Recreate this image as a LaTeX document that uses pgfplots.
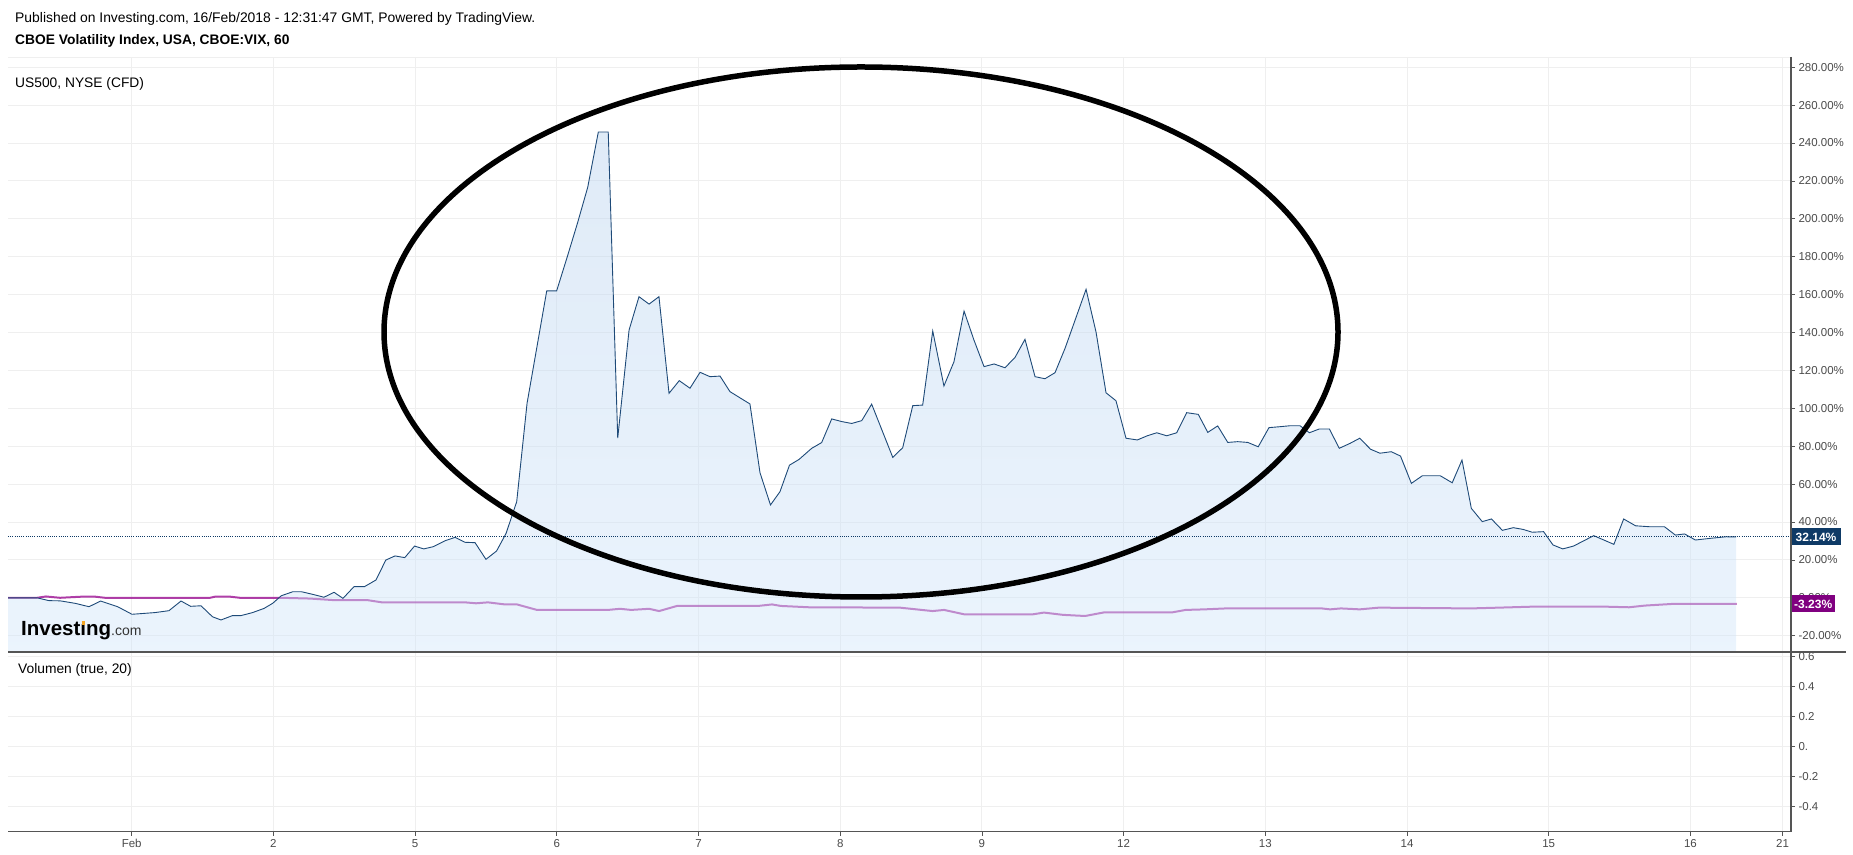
\documentclass[border=0pt]{standalone}
\usepackage{pgfplots}
\pgfplotsset{compat=1.18}
\usepackage{pgfplotstable}
\usepackage{fontspec}
\setmainfont{Liberation Sans}

\definecolor{gridc}{HTML}{EFEFEF}
\definecolor{axisc}{HTML}{555555}
\definecolor{tickc}{HTML}{4A4A4A}
\definecolor{vixline}{HTML}{1E4A78}
\definecolor{filltop}{RGB}{185,210,238}
\definecolor{fillbot}{RGB}{210,230,250}
\definecolor{spx}{RGB}{150,0,140}
\definecolor{navybox}{HTML}{0E3A66}
\definecolor{purplebox}{HTML}{800080}
\definecolor{investorange}{HTML}{F5A623}

% orange-dotted i of the logo
\newcommand\idot{\ooalign{ı\cr\hidewidth\textcolor{investorange}{\rule[0.56em]{0.16em}{0.15em}}\hidewidth\cr}}

% VIX, % change (x = trading day: 1 = Feb 1, 2 = Feb 2, 3 = Feb 5, ...)
\pgfplotstableread{
d v
0.127 0.0
0.332 0.0
0.416 -1.5
0.494 -1.6
0.600 -2.9
0.699 -4.7
0.780 -1.7
0.901 -4.7
1.002 -8.7
1.164 -7.8
1.263 -6.8
1.348 -1.7
1.416 -4.5
1.489 -4.2
1.570 -10.0
1.630 -11.7
1.711 -9.4
1.771 -9.4
1.853 -7.8
1.934 -5.6
1.995 -2.9
2.056 1.1
2.137 3.2
2.198 3.2
2.279 1.8
2.357 0.3
2.428 2.9
2.491 -0.3
2.569 5.9
2.643 5.9
2.724 9.4
2.793 19.9
2.858 22.1
2.927 21.2
2.996 27.3
3.061 25.8
3.129 27.0
3.211 30.1
3.282 31.9
3.352 29.3
3.423 29.1
3.500 20.3
3.575 24.7
3.642 34.0
3.717 50.7
3.790 102.6
3.929 162.0
3.999 162.0
4.074 180.0
4.147 198.0
4.218 216.6
4.293 245.8
4.363 245.8
4.430 84.3
4.510 141.3
4.580 158.9
4.651 155.0
4.721 158.9
4.792 107.9
4.864 114.6
4.940 110.6
5.011 119.0
5.081 116.7
5.152 117.0
5.222 108.8
5.363 102.3
5.434 66.0
5.508 49.0
5.575 56.0
5.642 70.0
5.709 73.0
5.799 78.9
5.869 81.9
5.940 94.4
6.011 93.0
6.081 92.0
6.152 93.5
6.222 102.2
6.371 74.1
6.441 79.2
6.512 101.4
6.582 101.7
6.653 140.8
6.732 111.8
6.803 124.6
6.874 151.3
6.944 136.0
7.015 122.0
7.086 123.4
7.163 121.4
7.234 126.9
7.304 136.4
7.375 116.7
7.445 115.6
7.516 118.8
7.587 131.7
7.735 162.8
7.805 140.4
7.876 108.2
7.946 104.0
8.017 84.2
8.097 83.3
8.167 85.5
8.234 87.1
8.304 85.5
8.375 87.1
8.445 97.7
8.527 96.8
8.594 87.3
8.664 90.7
8.735 82.0
8.805 82.4
8.876 82.0
8.950 79.7
9.026 89.8
9.104 90.3
9.174 90.8
9.245 90.8
9.311 87.1
9.381 89.1
9.452 89.1
9.522 78.9
9.598 81.5
9.666 84.2
9.743 78.4
9.809 76.3
9.889 77.1
9.954 74.8
10.031 60.4
10.108 64.4
10.235 64.4
10.319 60.7
10.388 72.7
10.454 47.2
10.531 40.2
10.596 41.6
10.673 35.6
10.750 37.0
10.819 36.1
10.884 34.6
10.964 34.9
11.030 27.9
11.099 25.8
11.175 27.3
11.318 32.8
11.460 28.2
11.529 41.6
11.613 38.0
11.713 37.5
11.817 37.5
11.894 33.1
11.959 33.7
12.035 30.5
12.143 31.4
12.251 32.2
12.323 32.14
}\vix

% US500 compare line
\pgfplotstableread{
d v
0.127 0.0
0.332 0.0
0.395 0.7
0.494 0.0
0.649 0.6
0.741 0.6
0.812 0.0
1.553 0.0
1.588 0.6
1.694 0.6
1.764 0.0
2.054 0.0
2.258 -0.4
2.421 -1.2
2.661 -1.2
2.766 -2.4
3.352 -2.4
3.430 -2.9
3.514 -2.4
3.634 -3.5
3.719 -3.5
3.860 -6.4
4.361 -6.4
4.446 -5.8
4.524 -6.4
4.651 -5.8
4.722 -7.0
4.848 -4.3
5.420 -4.3
5.519 -3.5
5.582 -4.3
5.780 -5.0
6.422 -5.2
6.652 -7.0
6.733 -6.4
6.874 -8.7
7.361 -8.7
7.438 -7.8
7.572 -9.0
7.728 -9.6
7.862 -7.7
8.342 -7.7
8.438 -6.4
8.572 -6.1
8.723 -5.6
9.398 -5.6
9.457 -6.1
9.534 -5.6
9.666 -6.1
9.801 -5.2
10.452 -5.6
10.646 -5.2
10.876 -4.7
11.411 -4.7
11.567 -5.0
11.680 -4.1
11.874 -3.23
12.327 -3.23
}\spxdata

\pgfplotsset{
  panel/.style={
    scale only axis, width=1783bp, anchor=south west,
    xmin=0.127, xmax=12.71,
    xtick={1,2,3,4,5,6,7,8,9,10,11,12,12.65},
    axis line style={draw=none},
    grid=major, major grid style={gridc, line width=0.9bp},
    ytick pos=right, tick align=outside,
    major tick length=4bp,
    tick style={axisc, line width=0.8bp},
    tick label style={text=tickc},
    yticklabel style={font=\fontsize{11.5bp}{13bp}\selectfont},
    xticklabel style={font=\fontsize{11.5bp}{13bp}\selectfont},
    /pgf/number format/assume math mode=true,
    clip mode=individual,
  }
}

\begin{document}
\begin{tikzpicture}
\useasboundingbox (0,0) rectangle (1853bp,855bp);

% price panel
\begin{axis}[panel, at={(8bp,203bp)}, height=595bp,
  ymin=-28.6, ymax=285.4,
  ytick={-20,0,20,40,60,80,100,120,140,160,180,200,220,240,260,280},
  yticklabel={\pgfmathprintnumber[fixed,fixed zerofill,precision=2]{\tick}\%},
  xmajorticks=false, xmajorgrids=true]
\addplot[spx, line width=2bp, opacity=0.75] table[x=d,y=v] {\spxdata};
\addplot[draw=none, top color=filltop, bottom color=fillbot, fill opacity=0.45]
  table[x=d,y=v] {\vix} |- (axis cs:0.127,-30) -- cycle;
\addplot[vixline, line width=0.9bp] table[x=d,y=v] {\vix};
\addplot[navybox, line width=0.9bp, dash pattern=on 1bp off 1.2bp, forget plot]
  coordinates {(0.127,32.14) (12.71,32.14)};
\node[fill=navybox, text=white, font=\bfseries\fontsize{12bp}{14bp}\selectfont,
  anchor=west, inner xsep=4.5bp, inner ysep=0bp, minimum height=17bp]
  at (axis cs:12.71,32.14) {32.14\%};
\node[fill=purplebox, text=white, font=\bfseries\fontsize{12bp}{14bp}\selectfont,
  anchor=west, inner xsep=3bp, inner ysep=0bp, minimum height=17bp]
  at (axis cs:12.71,-3.23) {-3.23\%};
\end{axis}

% volume panel
\begin{axis}[panel, at={(8bp,23.3bp)}, height=179.7bp,
  ymin=-0.567, ymax=0.631,
  ytick={-0.4,-0.2,0,0.2,0.4,0.6},
  yticklabels={-0.4,-0.2,0.,0.2,0.4,0.6},
  xtick pos=bottom,
  xticklabels={Feb,2,5,6,7,8,9,12,13,14,15,16,21}]
\end{axis}

% frame lines
\draw[gridc, line width=0.9bp] (8bp,798bp) -- (1791bp,798bp);
\draw[axisc, line width=1.1bp] (1791bp,798bp) -- (1791bp,23.3bp);
\draw[axisc, line width=1.3bp] (8bp,203bp) -- (1846bp,203bp);
\draw[axisc, line width=1.3bp] (8bp,23.3bp) -- (1791bp,23.3bp);
\fill[white] (1792bp,0bp) rectangle (1800bp,22.6bp);

% texts
\node[anchor=base west, inner sep=0pt, font=\fontsize{13.9bp}{16bp}\selectfont]
  at (15bp,832.3bp) {Published on Investing.com, 16/Feb/2018 - 12:31:47 GMT, Powered by TradingView.};
\node[anchor=base west, inner sep=0pt, font=\bfseries\fontsize{13.8bp}{16bp}\selectfont]
  at (15bp,810bp) {CBOE Volatility Index, USA, CBOE:VIX, 60};
\node[anchor=base west, inner sep=0pt, font=\fontsize{13.8bp}{16bp}\selectfont]
  at (15bp,767bp) {US500, NYSE (CFD)};
\node[anchor=base west, inner sep=0pt, font=\fontsize{13.8bp}{16bp}\selectfont]
  at (18bp,181bp) {Volumen (true, 20)};
\node[anchor=base west, inner sep=0pt] at (21bp,219bp)
  {{\fontsize{20.5bp}{22bp}\selectfont\bfseries Invest\idot ng}{\color[HTML]{333333}\fontsize{14bp}{15bp}\selectfont .com}};

% highlight ellipse
\draw[black, line width=5.5bp] (861bp,523bp) ellipse [x radius=477bp, y radius=265bp];
\end{tikzpicture}
\end{document}
